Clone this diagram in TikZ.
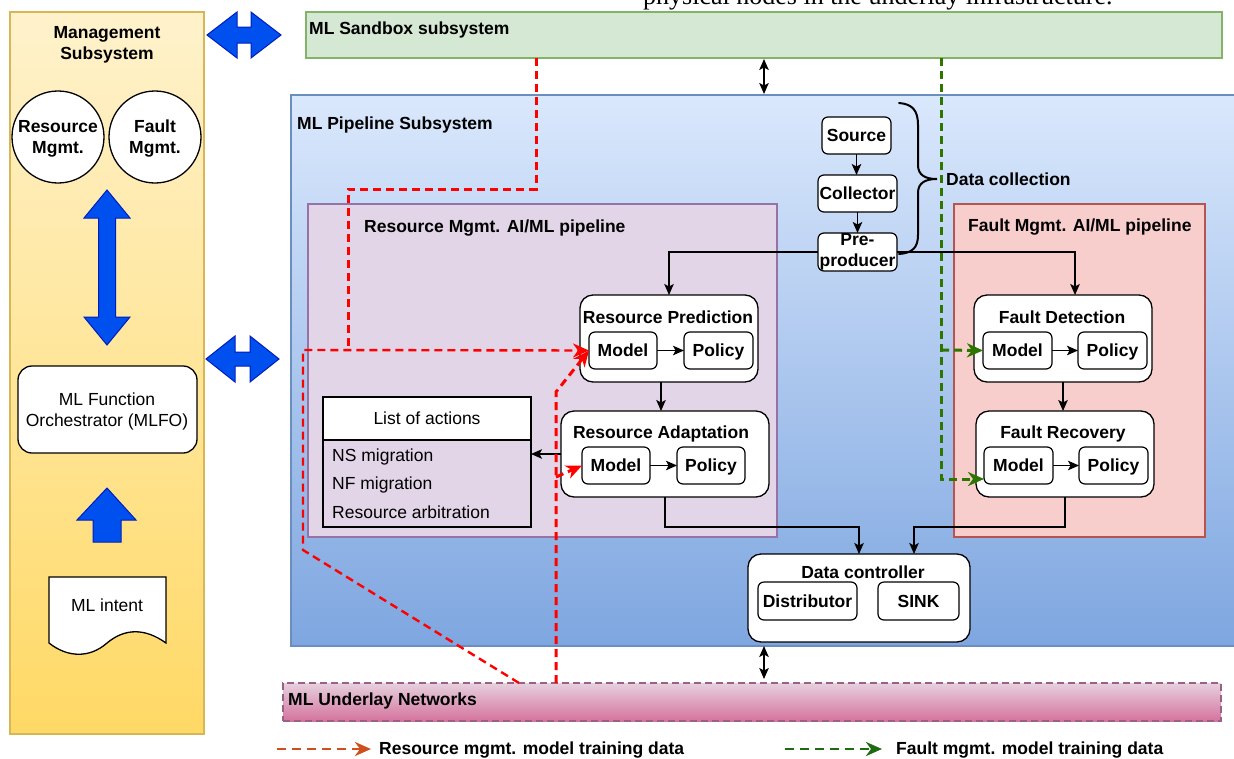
\documentclass[tikz,border=0pt]{standalone}
\usepackage{fontspec}
\setmainfont{Liberation Sans}
\newfontfamily\serifx{Liberation Serif}
\usetikzlibrary{arrows.meta,calc}
\definecolor{mgTop}{HTML}{FFF2CC}
\definecolor{mgBot}{HTML}{FFD966}
\definecolor{mgBorder}{HTML}{D6B656}
\definecolor{sbFill}{HTML}{D5E8D4}
\definecolor{sbBorder}{HTML}{82B366}
\definecolor{plTop}{HTML}{DAE8FC}
\definecolor{plBot}{HTML}{7EA6E0}
\definecolor{plBorder}{HTML}{6C8EBF}
\definecolor{rmFill}{HTML}{E1D5E7}
\definecolor{rmBorder}{HTML}{9673A6}
\definecolor{fmFill}{HTML}{F8CECC}
\definecolor{fmBorder}{HTML}{B85450}
\definecolor{ulTop}{HTML}{E6D0DE}
\definecolor{ulBot}{HTML}{D5739D}
\definecolor{ulBorder}{HTML}{996185}
\definecolor{blueFill}{HTML}{0050EF}
\definecolor{blueBorder}{HTML}{001DBC}
\definecolor{dashRed}{HTML}{FF0000}
\definecolor{dashGreen}{HTML}{2D7600}
\definecolor{legRed}{HTML}{D14F1C}
\definecolor{legGreen}{HTML}{1F6B12}
\tikzset{
  bt/.style={font=\bfseries\fontsize{17.5}{21}\selectfont},
  rt/.style={font=\fontsize{17.5}{21}\selectfont},
  lbl/.style={inner sep=0pt, text height=12.6pt, text depth=0pt},
  cont/.style={line width=1.2pt, inner sep=0pt, outer sep=0pt, anchor=north west},
  rbox/.style={draw=black, fill=white, line width=1.3pt, rounded corners=13pt, inner sep=0pt, outer sep=0pt, anchor=north west},
  smallbase/.style={draw=black, fill=white, line width=1.2pt, rounded corners=6pt, inner sep=0pt, outer sep=0pt, anchor=north west, bt},
  sbox/.style={smallbase, text height=12.6pt, text depth=0pt},
  arr/.style={line width=1.3pt, -{Stealth[length=11pt,width=9.5pt,inset=2.5pt]}},
  darr/.style={line width=1.3pt, {Stealth[length=11pt,width=9.5pt,inset=2.5pt]}-{Stealth[length=11pt,width=9.5pt,inset=2.5pt]}},
  reddash/.style={draw=dashRed, line width=3pt, dash pattern=on 8pt off 5pt},
  greendash/.style={draw=dashGreen, line width=3pt, dash pattern=on 8pt off 5pt},
  redtip/.style={-{Stealth[length=16pt,width=14pt,inset=5pt]}},
  bluearr/.style={fill=blueFill, draw=blueBorder, line width=1pt, line join=miter},
  circ/.style={circle, draw=black, fill=white, line width=1.3pt, minimum size=92pt, inner sep=0pt},
}
\begin{document}
\begin{tikzpicture}[x=1pt,y=-1pt]
\useasboundingbox (0,0) rectangle (1234,758);
\fill[white] (0,0) rectangle (1234,758);

% clipped running text at top
\begin{scope}
\clip (0,0) rectangle (1234,758);
\node[anchor=base west, inner sep=0pt, font=\serifx\fontsize{26}{26}\selectfont] (toptext) at (643,4) {physical nodes in the underlay infrastructure.};
\end{scope}

% ---------------- Management subsystem
\node[cont, draw=mgBorder, top color=mgTop, bottom color=mgBot, minimum width=194pt, minimum height=722pt] (mgmt) at (10,12) {};
\node[bt, align=center, inner sep=0pt] (mgtitle) at (107,45) {Management\\Subsystem};
\node[circ] (rmc) at (58,137) {};
\node[bt, align=center, inner sep=0pt] (rmctext) at (58,139) {Resource\\Mgmt.};
\node[circ] (fmc) at (155,137) {};
\node[bt, align=center, inner sep=0pt] (fmctext) at (155,139) {Fault\\Mgmt.};
\draw[bluearr] (107,190) -- (130,218) -- (115.5,218) -- (115.5,317) -- (130,317) -- (107,345) -- (84,317) -- (98.5,317) -- (98.5,218) -- (84,218) -- cycle;
\node[rbox, minimum width=179pt, minimum height=87pt, rounded corners=14pt] (mlfo) at (18,366) {};
\node[rt, align=center, inner sep=0pt] (mlfotext) at (107,411.5) {ML Function\\Orchestrator (MLFO)};
\draw[bluearr] (107,488) -- (136,520) -- (121,520) -- (121,542) -- (93,542) -- (93,520) -- (77,520) -- cycle;
\draw[line width=1.3pt, fill=white] (49,577) -- (166,577) -- (166,643) .. controls (145,628) and (125,628) .. (107,643) .. controls (90,658) and (68,658) .. (49,643) -- cycle;
\node[rt, lbl] (intent) at (107,605) {ML intent};

% blue double arrows
\draw[bluearr] (207,35) -- (237,12) -- (237,27) -- (251,27) -- (251,12) -- (281,35) -- (251,58) -- (251,43) -- (237,43) -- (237,58) -- cycle;
\draw[bluearr] (206,359) -- (235,336) -- (235,352) -- (250,352) -- (250,336) -- (279,359) -- (250,382) -- (250,366) -- (235,366) -- (235,382) -- cycle;

% ---------------- Sandbox
\node[cont, draw=sbBorder, fill=sbFill, minimum width=916pt, minimum height=46pt] (sandbox) at (306,12) {};
\node[bt, lbl, anchor=west] (sbtitle) at (309,28) {ML Sandbox subsystem};

% ---------------- Pipeline subsystem
\node[cont, draw=plBorder, top color=plTop, bottom color=plBot, minimum width=946pt, minimum height=551pt] (pl) at (291,95) {};
\node[bt, lbl, anchor=west] (pltitle) at (297,123) {ML Pipeline Subsystem};

\node[cont, draw=rmBorder, fill=rmFill, minimum width=469pt, minimum height=333pt] (rmp) at (308,204) {};
\node[bt, lbl, anchor=west] (rmptitle) at (364,226) {Resource Mgmt. AI/ML pipeline};
\node[cont, draw=fmBorder, fill=fmFill, minimum width=251pt, minimum height=333pt] (fmp) at (954,204) {};
\node[bt, lbl, anchor=west] (fmptitle) at (968,225) {Fault Mgmt. AI/ML pipeline};

% ---------------- Underlay
\node[cont, draw=ulBorder, line width=2pt, dash pattern=on 7pt off 4pt, top color=ulTop, bottom color=ulBot, minimum width=938pt, minimum height=38pt] (ul) at (283,683) {};
\node[bt, lbl, anchor=west] (ultitle) at (288,699) {ML Underlay Networks};

% ---------------- Data collection
\node[sbox, minimum width=69pt, minimum height=37pt] (src) at (822,117) {Source};
\node[sbox, minimum width=79pt, minimum height=37pt] (col) at (818,175) {Collector};
\node[smallbase, minimum width=79pt, minimum height=38pt, align=center] (pre) at (818,233) {Pre-\\producer};
\draw[arr] (src.south) -- (src.south |- col.north);
\draw[arr] (col.south) -- (col.south |- pre.north);
\draw[line width=2pt, line cap=round] (899,103) .. controls (912,104) and (918,110) .. (918,125) -- (918,165) .. controls (918,175) and (925,179) .. (937,179) .. controls (925,179) and (918,183) .. (918,193) -- (918,235) .. controls (918,248) and (912,253) .. (899,254);
\node[bt, lbl, anchor=west] (dctext) at (946,179) {Data collection};

% ---------------- Resource pipeline boxes
\node[rbox, minimum width=178pt, minimum height=87pt] (rp) at (580,295) {};
\node[bt, lbl] (rptitle) at (668,317) {Resource Prediction};
\node[sbox, minimum width=68pt, minimum height=37pt] (rpm) at (589,332) {Model};
\node[sbox, minimum width=69pt, minimum height=37pt] (rpp) at (684,332) {Policy};
\node[rbox, minimum width=208pt, minimum height=86pt] (ra) at (561,411) {};
\node[bt, lbl] (ratitle) at (661,432) {Resource Adaptation};
\node[sbox, minimum width=68pt, minimum height=37pt] (ram) at (582,447) {Model};
\node[sbox, minimum width=68pt, minimum height=37pt] (rap) at (677,447) {Policy};

\node[cont, draw=black, line width=1.3pt, minimum width=208pt, minimum height=130pt] (loa) at (323,397) {};
\node[cont, draw=black, line width=1.3pt, fill=white, minimum width=208pt, minimum height=43pt, rt, text height=12.6pt, text depth=0pt] (loah) at (323,397) {List of actions};
\node[rt, lbl, anchor=west] (it1) at (332,455) {NS migration};
\node[rt, lbl, anchor=west] (it2) at (332,483) {NF migration};
\node[rt, lbl, anchor=west] (it3) at (332,512) {Resource arbitration};

% ---------------- Fault pipeline boxes
\node[rbox, minimum width=178pt, minimum height=87pt] (fd) at (974,295) {};
\node[bt, lbl] (fdtitle) at (1062,317) {Fault Detection};
\node[sbox, minimum width=69pt, minimum height=37pt] (fdm) at (983,332) {Model};
\node[sbox, minimum width=69pt, minimum height=37pt] (fdp) at (1078,332) {Policy};
\node[rbox, minimum width=178pt, minimum height=86pt] (fr) at (976,411) {};
\node[bt, lbl] (frtitle) at (1063,432) {Fault Recovery};
\node[sbox, minimum width=69pt, minimum height=37pt] (frm) at (984,447) {Model};
\node[sbox, minimum width=69pt, minimum height=37pt] (frp) at (1079,447) {Policy};

% ---------------- Data controller
\node[rbox, minimum width=222pt, minimum height=88pt] (dc) at (748,554) {};
\node[bt, lbl] (dctitle) at (863,572) {Data controller};
\node[sbox, minimum width=99pt, minimum height=38pt] (dist) at (758,582) {Distributor};
\node[sbox, minimum width=81pt, minimum height=38pt] (sink) at (878,582) {SINK};

% ---------------- black connectors
\coordinate (fdin) at (1075,295);
\coordinate (rpout) at (661,382);
\coordinate (jr) at (859,527);
\coordinate (jf) at (914,527);
\coordinate (vx) at (764,0);
\draw[arr] (pre.west) -| (rp.north);
\draw[arr] (pre.east) -| (fdin);
\draw[arr] (rpm.east) -- (rpp.west);
\draw[arr] (ram.east) -- (rap.west);
\draw[arr] (fdm.east) -- (fdp.west);
\draw[arr] (frm.east) -- (frp.west);
\draw[arr] (rpout) -- (rpout |- ra.north);
\draw[arr] (fd.south) -- (fd.south |- fr.north);
\draw[arr] (ra.west) -- (ra.west -| loa.east);
\draw[arr] (ra.south) |- (jr) -- (jr |- dc.north);
\draw[arr] (fr.south) |- (jf) -- (jf |- dc.north);
\draw[darr, shorten <=1pt, shorten >=1pt] (sandbox.south -| vx) -- (pl.north -| vx);
\draw[darr, shorten <=4pt, shorten >=4pt] (dc.south -| vx) -- (ul.north -| vx);

% ---------------- red dashed (resource training data)
\coordinate (rA) at (536,189);
\coordinate (rB) at (348,189);
\coordinate (rC) at (348,350);
\coordinate (rL) at (303,350);
\coordinate (rL2) at (303,550);
\coordinate (rU1) at (519,683);
\coordinate (rV0) at (556,683);
\coordinate (rV1) at (556,392);
\coordinate (rV2) at (556,477);
\draw[reddash] (sandbox.south -| rA) -- (rA) -- (rB) -- (rC);
\draw[reddash, line width=2.4pt, redtip] (rU1) -- (rL2) -- (rL) -- (rpm.west);
\draw[reddash, redtip] (rV0) -- (rV1) -- (rpm.west);
\draw[reddash, redtip] (rV2) -- (ram.west);

% ---------------- green dashed (fault training data)
\coordinate (g0) at (941,0);
\coordinate (g1) at (941,479);
\coordinate (g2) at (941,350);
\draw[greendash, redtip] (sandbox.south -| g0) -- (g1) -- (g1 -| frm.west);
\draw[greendash, redtip] (g2) -- (fdm.west);

% ---------------- legend
\coordinate (lr0) at (277,749);
\coordinate (lr1) at (371,749);
\coordinate (lg0) at (785,749);
\coordinate (lg1) at (882,749);
\draw[draw=legRed, line width=2.8pt, dash pattern=on 9pt off 6pt, -{Stealth[length=16pt,width=14pt,inset=5pt]}] (lr0) -- (lr1);
\node[bt, lbl, anchor=west] (legr) at (379,748) {Resource mgmt. model training data};
\draw[draw=legGreen, line width=2.8pt, dash pattern=on 9pt off 6pt, -{Stealth[length=16pt,width=14pt,inset=5pt]}] (lg0) -- (lg1);
\node[bt, lbl, anchor=west] (legg) at (896,748) {Fault mgmt. model training data};
\end{tikzpicture}
\end{document}
